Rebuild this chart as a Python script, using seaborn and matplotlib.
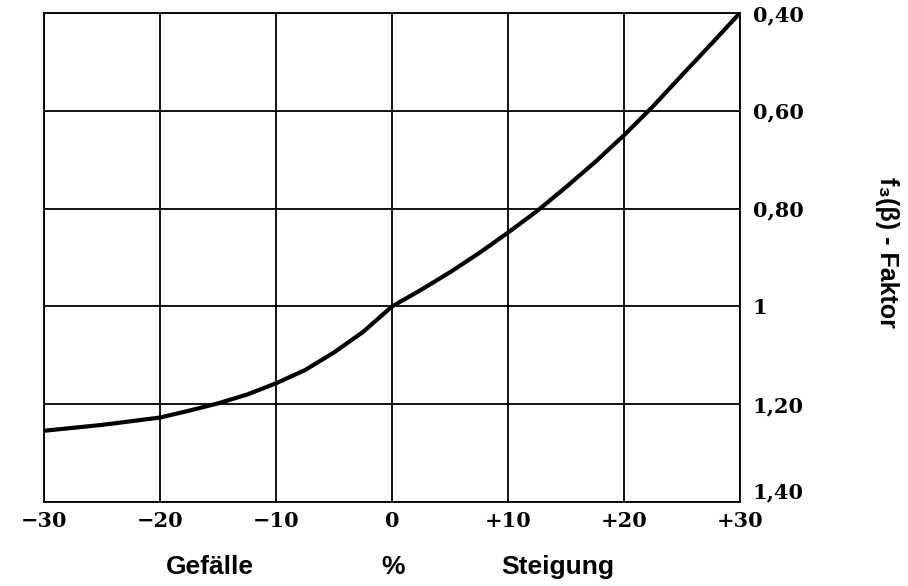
import matplotlib
matplotlib.use("Agg")
import matplotlib.pyplot as plt
import seaborn as sns
import pandas as pd

# values (Steigung/Gefälle in %, f3(beta) factor)
steigung = [-30, -25, -20, -17.5, -15, -12.5, -10, -7.5, -5, -2.5, 0,
            2.5, 5, 7.5, 10, 12.5, 15, 17.5, 20, 22.5, 25, 27.5, 30]
faktor = [1.254, 1.242, 1.227, 1.213, 1.198, 1.180, 1.157, 1.130, 1.094, 1.052, 1.0,
          0.966, 0.930, 0.891, 0.849, 0.805, 0.756, 0.705, 0.650, 0.591, 0.527, 0.464, 0.40]

x_ticks = [-30, -20, -10, 0, 10, 20, 30]
x_labels = ['\u221230', '\u221220', '\u221210', '0', '+10', '+20', '+30']
y_ticks = [0.40, 0.60, 0.80, 1.0, 1.20, 1.40]
y_labels = ['0,40', '0,60', '0,80', '1', '1,20', '1,40']

df = pd.DataFrame({'steigung': steigung, 'faktor': faktor})

sns.set_style("white")
fig = plt.figure(figsize=(9.08, 5.86), dpi=100)
ax = fig.add_axes([0.0485, 0.143, 0.7665, 0.835])

sns.lineplot(data=df, x='steigung', y='faktor', color='black', linewidth=3, ax=ax)

ax.set_xlim(-30, 30)
ax.set_ylim(1.40, 0.40)
ax.set_xticks(x_ticks)
ax.set_xticklabels(x_labels, fontsize=15, fontweight='bold', family='DejaVu Serif')
ax.set_yticks(y_ticks)
ax.set_yticklabels(y_labels, fontsize=15, fontweight='bold', family='DejaVu Serif')
ax.yaxis.tick_right()
ax.tick_params(axis='both', length=0, labelcolor='black')
ax.tick_params(axis='x', pad=6)
ax.tick_params(axis='y', pad=9)
# lowest y label sits just above the corner, like in the original
ax.yaxis.get_major_ticks()[-1].label2.set_va('bottom')
ax.grid(True, color='black', linewidth=1.3)
for s in ax.spines.values():
    s.set_color('black')
    s.set_linewidth(1.3)
ax.set_xlabel('')
ax.set_ylabel('')

fig.text(210 / 908, 1 - 567 / 586, 'Gefälle', ha='center', va='center', color='black',
         fontsize=19, fontweight='bold', family='Liberation Sans')
fig.text(393 / 908, 1 - 567 / 586, '%', ha='center', va='center', color='black',
         fontsize=19, fontweight='bold', family='Liberation Sans')
fig.text(558 / 908, 1 - 567 / 586, 'Steigung', ha='center', va='center', color='black',
         fontsize=19, fontweight='bold', family='Liberation Sans')
fig.text(887 / 908, 1 - 252 / 586, 'f\u2083(\u03b2) - Faktor', ha='center', va='center', color='black',
         rotation=270, fontsize=18, fontweight='bold', family=['Liberation Sans', 'DejaVu Sans'])

fig.savefig('out.png', dpi=100)
